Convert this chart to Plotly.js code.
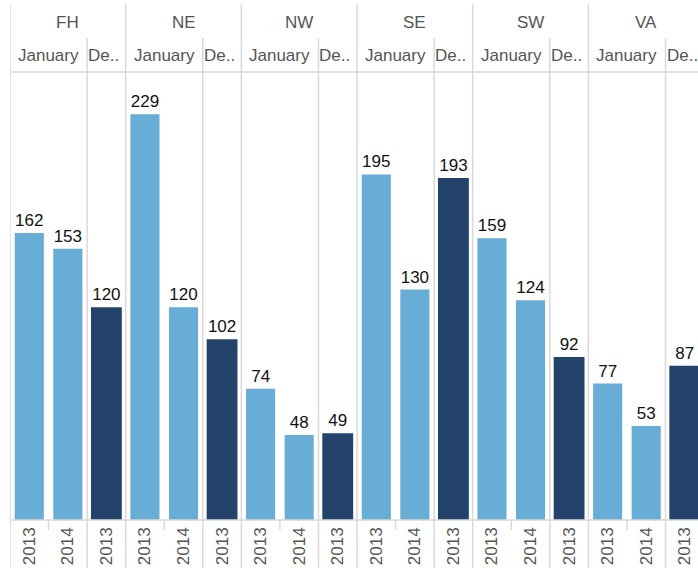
<!DOCTYPE html>
<html>
<head>
<meta charset="utf-8">
<script src="https://cdn.plot.ly/plotly-3.0.1.min.js"></script>
<style>html,body{margin:0;padding:0;background:#fff;}#chart{width:698px;height:568px;}</style>
</head>
<body>
<div id="chart"></div>
<script>
// ---- data ----
const regions = ['FH', 'NE', 'NW', 'SE', 'SW', 'VA'];
const monthHeaders = ['January', 'De..'];
const years = ['2013', '2014', '2013'];
const jan2013 = [162, 229, 74, 195, 159, 77];
const jan2014 = [153, 120, 48, 130, 124, 53];
const dec2013 = [120, 102, 49, 193, 92, 87];

// ---- build bars ----
const lightBlue = '#67add6';
const darkBlue = '#24436c';
const x = [], y = [], colors = [], widths = [], ticktext = [];
regions.forEach((r, i) => {
  const vals = [jan2013[i], jan2014[i], dec2013[i]];
  vals.forEach((v, j) => {
    x.push(r + ' ' + (j < 2 ? 'January' : 'December') + ' ' + years[j]);
    y.push(v);
    colors.push(j < 2 ? lightBlue : darkBlue);
    widths.push(j < 2 ? 0.755 : 0.8);
    ticktext.push(years[j]);
  });
});

const font = 'Liberation Sans, Arial, sans-serif';
const gridColor = '#d9d9d9';

// plot area px: x 10..698, y 72..520
const plotTop = 72, plotBottom = 520, plotH = plotBottom - plotTop;
const py = (px) => (plotBottom - px) / plotH;

const shapes = [];
const annotations = [];
regions.forEach((r, i) => {
  const base = i * 3;
  shapes.push({type: 'line', xref: 'x', yref: 'paper', x0: base - 0.5, x1: base - 0.5, y0: py(4), y1: py(568), line: {color: gridColor, width: 1.5}});
  shapes.push({type: 'line', xref: 'x', yref: 'paper', x0: base + 1.5, x1: base + 1.5, y0: py(38), y1: py(568), line: {color: gridColor, width: 1.5}});
  shapes.push({type: 'line', xref: 'x', yref: 'paper', x0: base + 0.5, x1: base + 0.5, y0: py(520), y1: py(530), line: {color: gridColor, width: 1.5}});
  annotations.push({text: r, xref: 'x', yref: 'paper', x: base + 1, y: py(22), showarrow: false, xanchor: 'center', yanchor: 'middle', font: {family: font, size: 17, color: '#555'}});
  annotations.push({text: monthHeaders[0], xref: 'x', yref: 'paper', x: base + 0.5, y: py(56), showarrow: false, xanchor: 'center', yanchor: 'middle', font: {family: font, size: 17, color: '#555'}});
  annotations.push({text: monthHeaders[1], xref: 'x', yref: 'paper', x: base + 1.5, xshift: 0, y: py(56), showarrow: false, xanchor: 'left', yanchor: 'middle', borderpad: 0, font: {family: font, size: 17, color: '#555'}});
});
shapes.push({type: 'line', xref: 'paper', yref: 'paper', x0: 0, x1: 1, y0: 1, y1: 1, line: {color: gridColor, width: 1.5}});
shapes.push({type: 'line', xref: 'paper', yref: 'paper', x0: 0, x1: 1, y0: 0, y1: 0, line: {color: gridColor, width: 1.5}});

const trace = {
  type: 'bar',
  x: x,
  y: y,
  width: widths,
  marker: {color: colors, line: {width: 0}},
  text: y.map(String),
  textposition: 'outside',
  constraintext: 'none',
  cliponaxis: false,
  textfont: {family: font, size: 17, color: '#111'},
  hoverinfo: 'x+y'
};

const layout = {
  width: 698,
  height: 568,
  margin: {l: 10, r: 0, t: 72, b: 48, pad: 0},
  paper_bgcolor: '#fff',
  plot_bgcolor: '#fff',
  showlegend: false,
  font: {family: font, size: 17, color: '#555'},
  xaxis: {
    type: 'category',
    categoryorder: 'array',
    categoryarray: x,
    range: [-0.5, 17.343],
    tickvals: x,
    ticktext: ticktext,
    tickangle: -90,
    ticks: '',
    ticklabelstandoff: 3,
    showgrid: false,
    showline: false,
    zeroline: false,
    tickfont: {family: font, size: 17, color: '#555'},
    fixedrange: true
  },
  yaxis: {
    range: [0, 252.8],
    showticklabels: false,
    ticks: '',
    showgrid: false,
    showline: false,
    zeroline: false,
    fixedrange: true
  },
  shapes: shapes,
  annotations: annotations
};

Plotly.newPlot('chart', [trace], layout, {displayModeBar: false, staticPlot: true});
</script>
</body>
</html>
